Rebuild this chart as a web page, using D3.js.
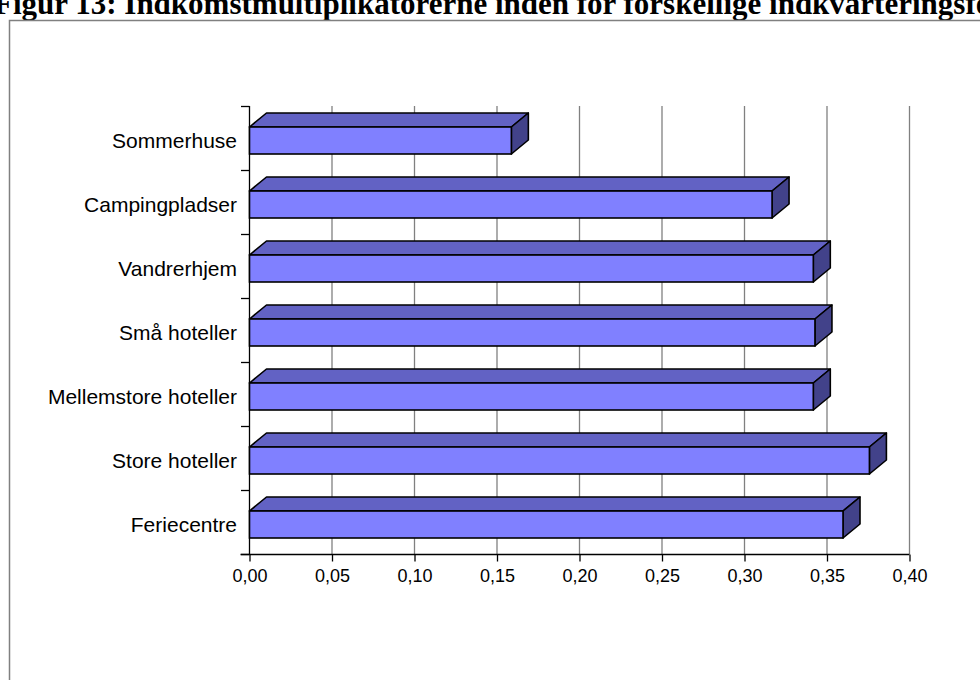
<!DOCTYPE html>
<html>
<head>
<meta charset="utf-8">
<script src="https://cdn.jsdelivr.net/npm/d3@7"></script>
<style>
  html, body { margin: 0; padding: 0; background: #fff; }
  svg { display: block; }
</style>
</head>
<body>
<svg id="chart" width="980" height="680"></svg>
<script>
const titleText = "Figur 13: Indkomstmultiplikatorerne inden for forskellige indkvarteringsformer";
const categories = ["Sommerhuse", "Campingpladser", "Vandrerhjem", "Små hoteller", "Mellemstore hoteller", "Store hoteller", "Feriecentre"];
const values = [0.159, 0.317, 0.342, 0.343, 0.342, 0.376, 0.360];
const xTicks = [0, 0.05, 0.10, 0.15, 0.20, 0.25, 0.30, 0.35, 0.40];

const svg = d3.select("#chart");

// title (cut at the top as in the reference)
svg.append("text")
  .attr("x", -6).attr("y", 14)
  .attr("font-family", "'Liberation Serif', 'Times New Roman', serif")
  .attr("font-weight", "bold")
  .attr("font-size", 31)
  .attr("fill", "#000")
  .text(titleText);

// outer frame
svg.append("rect")
  .attr("x", 9.5).attr("y", 20.5)
  .attr("width", 1000).attr("height", 700)
  .attr("fill", "#fff")
  .attr("stroke", "#808080").attr("stroke-width", 1.5);

const x0 = 249, x1 = 909, yTop = 106, yBot = 554;
const x = d3.scaleLinear().domain([0, 0.40]).range([x0, x1]);
const y = d3.scaleBand().domain(categories).range([yTop, yBot]).paddingInner(0).paddingOuter(0);

// gridlines
svg.append("g").selectAll("line").data(xTicks.slice(1)).join("line")
  .attr("x1", d => x(d) + 0.5).attr("x2", d => x(d) + 0.5)
  .attr("y1", yTop).attr("y2", yBot)
  .attr("stroke", "#808080").attr("stroke-width", 1.3);

// x axis
const xAxis = d3.axisBottom(x).tickValues(xTicks).tickSize(7).tickPadding(8)
  .tickFormat(d => d3.format(".2f")(d).replace(".", ","));
const gx = svg.append("g").attr("transform", `translate(0.5,${yBot + 0.5})`).call(xAxis);
gx.select(".domain").attr("d", `M${x0 - 9},0H${x1}`).attr("stroke", "#000").attr("stroke-width", 1.3);
gx.selectAll(".tick line").attr("stroke", "#000").attr("stroke-width", 1.3);
gx.selectAll(".tick text")
  .attr("font-family", "'Liberation Sans', Arial, sans-serif")
  .attr("font-size", 18).attr("fill", "#000");

// y axis
const yAxisLine = svg.append("g");
yAxisLine.append("line")
  .attr("x1", x0 + 0.5).attr("x2", x0 + 0.5).attr("y1", yTop).attr("y2", yBot)
  .attr("stroke", "#000").attr("stroke-width", 1.3);
const boundaries = categories.map(c => y(c)).concat([yBot]);
yAxisLine.selectAll("line.tk").data(boundaries).join("line").attr("class", "tk")
  .attr("x1", x0 - 8).attr("x2", x0 + 0.5)
  .attr("y1", d => d + 0.5).attr("y2", d => d + 0.5)
  .attr("stroke", "#000").attr("stroke-width", 1.3);

// bars (3D)
const faceTop = 21, faceH = 27, dx = 17, dy = 14;
const bars = svg.append("g");
categories.forEach((c, i) => {
  const bx0 = x(0) + 0.5, bx1 = x(values[i]);
  const ty = y(c) + faceTop, by = ty + faceH;
  const g = bars.append("g");
  g.append("path")
    .attr("d", `M${bx0},${ty}L${bx0 + dx},${ty - dy}L${bx1 + dx},${ty - dy}L${bx1},${ty}Z`)
    .attr("fill", "#6262C4").attr("stroke", "#000").attr("stroke-width", 1.6).attr("stroke-linejoin", "round");
  g.append("path")
    .attr("d", `M${bx1},${ty}L${bx1 + dx},${ty - dy}L${bx1 + dx},${by - dy}L${bx1},${by}Z`)
    .attr("fill", "#42428A").attr("stroke", "#000").attr("stroke-width", 1.6).attr("stroke-linejoin", "round");
  g.append("rect")
    .attr("x", bx0).attr("y", ty).attr("width", bx1 - bx0).attr("height", faceH)
    .attr("fill", "#8080FF").attr("stroke", "#000").attr("stroke-width", 1.6);
  svg.append("text")
    .attr("x", 237).attr("y", ty + faceH / 2)
    .attr("dy", "0.35em")
    .attr("text-anchor", "end")
    .attr("font-family", "'Liberation Sans', Arial, sans-serif")
    .attr("font-size", 21).attr("fill", "#000")
    .text(c);
});
</script>
</body>
</html>
